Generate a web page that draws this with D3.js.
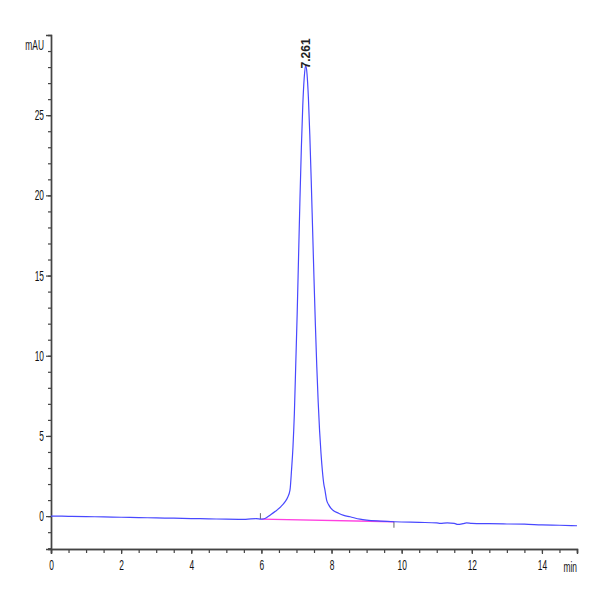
<!DOCTYPE html>
<html>
<head>
<meta charset="utf-8">
<script src="https://cdn.jsdelivr.net/npm/d3@7"></script>
<style>
  body { margin: 0; background: #fff; }
  text { font-family: "Liberation Sans", Arial, sans-serif; }
</style>
</head>
<body>
<div id="chart"></div>
<script>
// chromatogram signal (min, mAU)
const times = [0, 0.5, 1, 1.5, 2, 2.5, 3, 3.5, 4, 4.5, 5, 5.5, 5.7, 5.85, 6, 6.1, 6.245, 6.4, 6.55, 6.672, 6.75, 6.815,
    6.86, 6.9, 6.94, 6.98, 7.02, 7.06, 7.1, 7.14, 7.18, 7.22, 7.261, 7.3, 7.34, 7.38, 7.42, 7.46, 7.5, 7.54, 7.58,
    7.62, 7.66, 7.7, 7.74, 7.78, 7.813, 7.86, 7.92, 7.98, 8.04, 8.2, 8.35, 8.53, 8.81, 9, 9.4, 9.8, 10.5, 11, 11.1,
    11.3, 11.5, 11.6, 11.75, 11.85, 12, 12.5, 13, 13.5, 14, 14.5, 15];
const signal = [0, -0.01, -0.03, -0.05, -0.07, -0.09, -0.11, -0.13, -0.15, -0.17, -0.19, -0.2, -0.17, -0.16, -0.19, -0.15, 0.06, 0.3, 0.58, 0.89, 1.18, 1.62,
    2.9, 4.3, 6.4, 9.5, 12.6, 16.2, 19.8, 23.0, 25.6, 27.3, 28.1, 27.6, 26.1, 23.8, 21.0, 17.9, 14.8, 11.9, 9.3,
    7.1, 5.3, 3.9, 2.8, 2.0, 1.62, 1.0, 0.7, 0.5, 0.37, 0.18, 0.05, -0.04, -0.19, -0.25, -0.31, -0.35, -0.39, -0.42, -0.45,
    -0.42, -0.45, -0.52, -0.47, -0.42, -0.45, -0.47, -0.49, -0.5, -0.55, -0.57, -0.6];

// integration baseline and peak
const baseTimes = [6.0, 9.78];
const baseValues = [-0.19, -0.35];
const peakTime = 7.261;
const peakHeight = 28.1;
const peakLabel = "7.261";

const xMajor = [0, 2, 4, 6, 8, 10, 12, 14];
const yMajor = [0, 5, 10, 15, 20, 25];

const width = 600;
const height = 600;
const squeeze = 0.6;

const svg = d3.select("#chart")
    .append("svg")
    .attr("width", width)
    .attr("height", height);

const x = d3.scaleLinear().domain([0, 15]).range([51, 577]);
const y = d3.scaleLinear().domain([-2.05, 30]).range([549, 35]);

const axisColor = "#444";

// narrow the tick labels like the original export
function narrowLabels(g, dx) {
    g.selectAll("text")
        .attr("transform", `scale(${squeeze},1)`)
        .attr("x", dx / squeeze)
        .attr("fill", "#111")
        .style("font-size", "14px");
}

// y axis
const yMinor = svg.append("g")
    .attr("transform", `translate(${x(0)},0)`)
    .call(d3.axisLeft(y).tickValues(d3.range(-2, 30)).tickSize(3).tickFormat(""));
const yAxis = svg.append("g")
    .attr("transform", `translate(${x(0)},0)`)
    .call(d3.axisLeft(y).tickValues(yMajor).tickSize(5).tickPadding(2).tickFormat(d3.format("d")));
yAxis.call(g => narrowLabels(g, -7));

// x axis
const xMinor = svg.append("g")
    .attr("transform", `translate(0,${y.range()[0]})`)
    .call(d3.axisBottom(x).tickValues(d3.range(0, 15.01, 0.5)).tickSize(4).tickFormat(""));
const xAxis = svg.append("g")
    .attr("transform", `translate(0,${y.range()[0]})`)
    .call(d3.axisBottom(x).tickValues(xMajor).tickSize(5).tickPadding(6).tickFormat(d3.format("d")));
xAxis.call(g => narrowLabels(g, 0));

[yMinor, yAxis, xMinor, xAxis].forEach(g => {
    g.select(".domain").attr("stroke", axisColor).attr("stroke-width", 1.4);
    g.selectAll(".tick line").attr("stroke", axisColor).attr("stroke-width", 1.2);
});

// axis units
svg.append("text")
    .attr("transform", `translate(44,50) scale(${squeeze},1)`)
    .attr("text-anchor", "end")
    .style("font-size", "14px")
    .attr("fill", "#111")
    .text("mAU");

svg.append("text")
    .attr("transform", `translate(577,572) scale(${squeeze},1)`)
    .attr("text-anchor", "end")
    .style("font-size", "14px")
    .attr("fill", "#111")
    .text("min");

// baseline of the integrated peak
svg.append("line")
    .attr("x1", x(baseTimes[0])).attr("y1", y(baseValues[0]))
    .attr("x2", x(baseTimes[1])).attr("y2", y(baseValues[1]))
    .attr("stroke", "#ff40e0")
    .attr("stroke-width", 1.3);

// integration start / end marks
svg.append("line")
    .attr("x1", x(baseTimes[0]) - 1).attr("x2", x(baseTimes[0]) - 1)
    .attr("y1", y(baseValues[0])).attr("y2", y(baseValues[0]) - 6)
    .attr("stroke", "#666").attr("stroke-width", 1);
svg.append("line")
    .attr("x1", x(baseTimes[1])).attr("x2", x(baseTimes[1]))
    .attr("y1", y(baseValues[1])).attr("y2", y(baseValues[1]) + 6)
    .attr("stroke", "#666").attr("stroke-width", 1);

// signal trace
const line = d3.line()
    .x((d, i) => x(times[i]))
    .y(d => y(d))
    .curve(d3.curveMonotoneX);

svg.append("path")
    .datum(signal)
    .attr("fill", "none")
    .attr("stroke", "#4848ff")
    .attr("stroke-width", 1.2)
    .attr("d", line);

// retention time label
svg.append("text")
    .attr("transform", `translate(${x(peakTime) + 4},${y(peakHeight) + 3}) rotate(-90)`)
    .attr("text-anchor", "start")
    .style("font-size", "12px")
    .style("font-weight", "bold")
    .attr("fill", "#222")
    .text(peakLabel);
</script>
</body>
</html>
